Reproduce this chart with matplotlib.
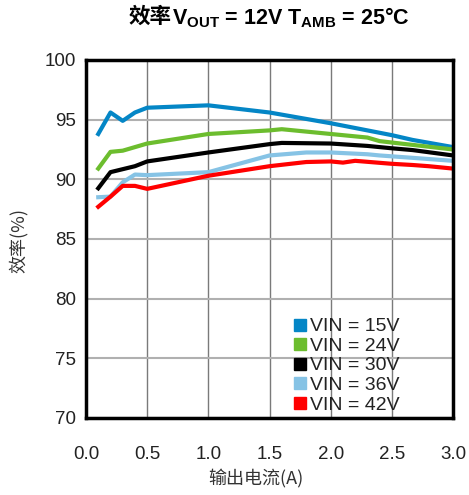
import matplotlib
matplotlib.use("Agg")
import matplotlib.pyplot as plt
from matplotlib.lines import Line2D

plt.rcParams['font.family'] = ['Liberation Sans', 'Noto Sans CJK SC', 'DejaVu Sans']
plt.rcParams['mathtext.fontset'] = 'custom'
plt.rcParams['mathtext.rm'] = 'Liberation Sans'
plt.rcParams['mathtext.bf'] = 'Liberation Sans:bold'

x15 = [0.1, 0.2, 0.3, 0.4, 0.5, 1.0, 1.5, 2.0, 2.5, 2.67, 3.0]
y15 = [93.8, 95.6, 94.9, 95.6, 96.0, 96.2, 95.6, 94.7, 93.7, 93.3, 92.7]

x24 = [0.1, 0.2, 0.3, 0.4, 0.5, 1.0, 1.5, 1.6, 2.0, 2.3, 2.4, 3.0]
y24 = [90.9, 92.3, 92.4, 92.7, 93.0, 93.8, 94.1, 94.2, 93.8, 93.5, 93.2, 92.5]

x30 = [0.1, 0.2, 0.3, 0.4, 0.5, 1.0, 1.5, 1.6, 2.0, 2.3, 2.5, 2.67, 3.0]
y30 = [89.25, 90.6, 90.85, 91.1, 91.5, 92.25, 92.95, 93.05, 93.0, 92.8, 92.6, 92.45, 92.0]

x36 = [0.1, 0.2, 0.3, 0.4, 0.5, 1.0, 1.5, 1.8, 2.0, 2.3, 2.4, 2.67, 3.0]
y36 = [88.5, 88.55, 89.75, 90.4, 90.35, 90.6, 92.0, 92.25, 92.25, 92.1, 92.0, 91.8, 91.55]

x42 = [0.1, 0.2, 0.3, 0.4, 0.5, 1.0, 1.5, 1.8, 2.0, 2.1, 2.2, 2.5, 2.67, 2.8, 3.0]
y42 = [87.7, 88.55, 89.45, 89.45, 89.2, 90.3, 91.1, 91.45, 91.5, 91.4, 91.55, 91.3, 91.2, 91.1, 90.9]

labels = ['VIN = 15V', 'VIN = 24V', 'VIN = 30V', 'VIN = 36V', 'VIN = 42V']
colors = ['#0486c6', '#6cbd2e', '#000000', '#86c3e5', '#ff0000']
xticks = [0.0, 0.5, 1.0, 1.5, 2.0, 2.5, 3.0]
yticks = [70, 75, 80, 85, 90, 95, 100]

fig = plt.figure(figsize=(4.69, 4.95), dpi=100)
ax = fig.add_axes([0.1834, 0.1556, 0.7826, 0.7232])

series = [(x15, y15), (x24, y24), (x30, y30), (x36, y36), (x42, y42)]
for (xs, ys), c, lab in zip(series, colors, labels):
    ax.plot(xs, ys, color=c, lw=3.0, label=lab, solid_joinstyle='round', zorder=3)

ax.set_xlim(0, 3.0)
ax.set_ylim(70, 100)
ax.set_xticks(xticks)
ax.set_yticks(yticks)
ax.set_xticklabels([f'{v:.1f}' for v in xticks])
ax.set_yticklabels([str(v) for v in yticks])
ax.tick_params(axis='both', length=0, labelsize=13.5, colors='#222222')
ax.tick_params(axis='x', pad=20)
ax.tick_params(axis='y', pad=7)
ax.xaxis.grid(True, color='#7a7a7a', lw=1.0)
ax.yaxis.grid(True, color='#b0b0b0', lw=1.5)
for s in ax.spines.values():
    s.set_linewidth(2.5)
    s.set_color('#000000')
    s.set_zorder(5)

cjk = ['Noto Sans CJK SC', 'DejaVu Sans']
ax.set_xlabel('输出电流(A)', fontsize=13, color='#333333', family=cjk)
ax.xaxis.set_label_coords(0.463, -0.145)
ax.set_ylabel('效率(%)', fontsize=13, color='#333333', family=cjk)
ax.yaxis.set_label_coords(-0.158, 0.497)

title_x = 172 / 469
fig.text(title_x, 0.967, '效率', ha='right', va='center', fontsize=15.5,
         fontweight='bold', family=cjk)
fig.text(title_x, 0.965, r'V$_{\mathbf{OUT}}$ = 12V T$_{\mathbf{AMB}}$ = 25°C',
         ha='left', va='center', fontsize=15.5, fontweight='bold')

handles = [Line2D([], [], marker='s', ls='none', color=c, markersize=8) for c in colors]
leg = ax.legend(handles, labels, loc='upper left', bbox_to_anchor=(0.566, 0.28),
                frameon=False, fontsize=14, handlelength=0.6, handletextpad=0.25,
                labelspacing=0.1, borderpad=0.0, borderaxespad=0.0)
for t in leg.get_texts():
    t.set_color('#222222')

fig.savefig('out.png', dpi=100)
